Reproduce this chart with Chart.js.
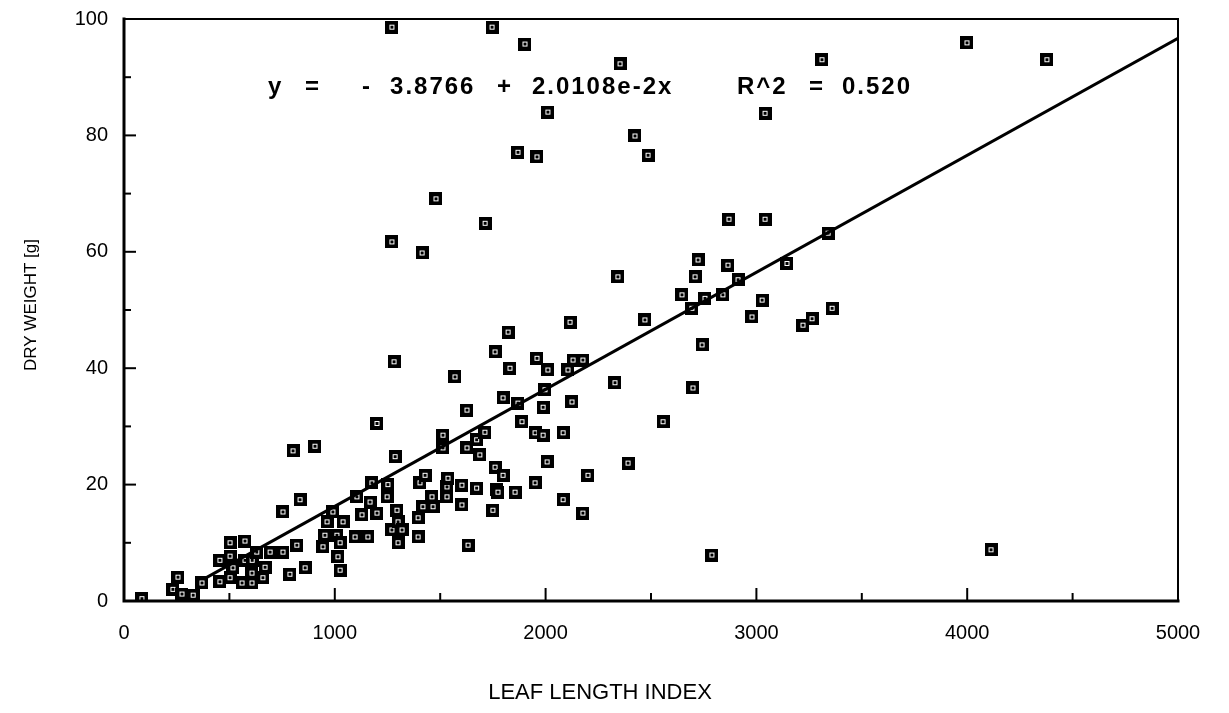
<!DOCTYPE html>
<html>
<head>
<meta charset="utf-8">
<script src="https://cdn.jsdelivr.net/npm/chart.js@4"></script>
<style>
html, body { margin: 0; padding: 0; background: #fff; }
#chart { display: block; }
</style>
</head>
<body>
<canvas id="chart" width="1229" height="713"></canvas>
<script>
// ------------------------
// DATA
// ------------------------

const leafIndex = [
    85, 232, 256, 275, 328, 370, 455, 455, 503, 503, 503, 517, 560, 574, 574, 607, 607, 608, 630, 659,
    669, 693, 754, 754, 787, 802, 820, 835, 859, 906,
    944, 953, 963, 991, 1010, 1015, 1025, 1025, 1039, 1096, 1105, 1129, 1157, 1167, 1176, 1200, 1200, 1248, 1252, 1271,
    1286, 1295, 1300, 1300, 1319, 1281, 1395, 1395, 1404, 1418, 1428, 1461, 1466, 1513, 1513, 1532, 1532, 1537, 1570, 1603,
    1603, 1627, 1627, 1632, 1673, 1673, 1688, 1712, 1750, 1760, 1760, 1769, 1774, 1798, 1798, 1822, 1831, 1855, 1869, 1888,
    1950, 1950, 1959, 1988, 1988, 1997, 2007, 2011, 2083, 2083, 2106, 2116, 2125, 2130, 2177, 2177, 2201, 2329, 2391, 2471,
    2557, 2343, 2647, 2694, 2699, 2709, 2723, 2742, 2756, 2789, 2841, 2865, 2870, 2913, 2979, 3027, 3041, 3041, 3145, 3221,
    3264, 3311, 3340, 3359, 3999, 4113, 4378,
    1271, 1746, 1902, 2353, 2011, 2424, 1869, 1959, 2486, 1480, 1713, 1271, 1414
];

const dryWeight = [
    0.4, 2.0, 4.1, 1.2, 1.0, 3.1, 7.0, 3.3, 10.0, 7.7, 4.0, 5.7, 3.1, 10.3, 7.0, 3.1, 4.8, 7.0, 8.4, 4.0,
    5.8, 8.4, 8.4, 15.3, 4.6, 25.8, 9.6, 17.4, 5.7, 26.6,
    9.3, 11.3, 13.6, 15.3, 11.3, 7.6, 10.0, 5.3, 13.6, 11.0, 17.9, 14.8, 11.0, 17.0, 20.3, 15.1, 30.5, 17.9, 20.0, 12.2,
    24.8, 15.6, 13.6, 10.0, 12.2, 41.1, 14.3, 11.0, 20.3, 16.2, 21.6, 17.9, 16.2, 28.5, 26.3, 19.6, 17.9, 21.1, 38.5, 19.9,
    16.5, 32.8, 26.3, 9.6, 27.7, 19.4, 25.1, 29.0, 15.6, 23.0, 42.8, 19.1, 18.7, 21.6, 34.9, 46.2, 40.0, 18.7, 34.0, 30.8,
    28.9, 20.3, 41.7, 33.3, 28.5, 36.3, 23.9, 39.7, 28.9, 17.4, 39.7, 47.9, 34.2, 41.4, 41.4, 15.1, 21.6, 37.5, 23.7, 48.3,
    30.8, 55.7, 52.6, 50.3, 36.6, 55.7, 58.6, 44.0, 52.0, 7.9, 52.6, 57.7, 65.6, 55.2, 48.8, 51.7, 65.6, 83.8, 58.0, 47.4,
    48.5, 93.0, 63.2, 50.3, 95.9, 8.8, 93.0,
    98.6, 98.6, 95.7, 92.3, 84.0, 79.9, 77.1, 76.3, 76.6, 69.1, 64.9, 61.7, 59.8
];

// regression line end points
const fitX = [380, 5000];
const fitY = [3.8, 96.7];

const xMin = 0, xMax = 5000, xStep = 1000, xMinorStep = 500;
const yMin = 0, yMax = 100, yStep = 20, yMinorStep = 10;

const xTitle = "LEAF LENGTH INDEX";
const yTitle = "DRY WEIGHT [g]";

// equation pieces and the x value where each one starts
const eqParts = [
    ["y", 683], ["=", 859], ["-", 1129], ["3.8766", 1262], ["+", 1769],
    ["2.0108e-2x", 1935], ["R^2", 2908], ["=", 3250], ["0.520", 3406]
];
const eqY = 88.2;

// ------------------------
// MARKER
// ------------------------

function makeMarker() {
    const c = document.createElement("canvas");
    c.width = 13;
    c.height = 13;
    const g = c.getContext("2d");
    g.fillStyle = "#000";
    g.fillRect(0, 0, 13, 13);
    g.fillStyle = "#fff";
    g.fillRect(4, 4, 5, 5);
    g.fillStyle = "#000";
    g.fillRect(5, 5, 3, 3);
    return c;
}

// ------------------------
// FRAME / TICKS / TEXT
// ------------------------

const framePlugin = {
    id: "frame",
    afterDraw(chart) {
        const ctx = chart.ctx;
        const a = chart.chartArea;
        const xs = chart.scales.x;
        const ys = chart.scales.y;

        ctx.save();
        ctx.strokeStyle = "#000";
        ctx.lineCap = "square";

        // top + right border (thin)
        ctx.lineWidth = 2;
        ctx.beginPath();
        ctx.moveTo(a.left, a.top);
        ctx.lineTo(a.right, a.top);
        ctx.lineTo(a.right, a.bottom);
        ctx.stroke();

        // left + bottom axis (thick)
        ctx.lineWidth = 3;
        ctx.beginPath();
        ctx.moveTo(a.left, a.top);
        ctx.lineTo(a.left, a.bottom);
        ctx.lineTo(a.right, a.bottom);
        ctx.stroke();

        // inward ticks
        ctx.lineWidth = 2;
        for (let v = yMin; v <= yMax; v += yMinorStep) {
            const y = ys.getPixelForValue(v);
            const len = v % yStep === 0 ? 11 : 6;
            ctx.beginPath();
            ctx.moveTo(a.left, y);
            ctx.lineTo(a.left + len, y);
            ctx.stroke();
        }
        for (let v = xMin; v <= xMax; v += xMinorStep) {
            const x = xs.getPixelForValue(v);
            const len = v % xStep === 0 ? 12 : 7;
            ctx.beginPath();
            ctx.moveTo(x, a.bottom);
            ctx.lineTo(x, a.bottom - len);
            ctx.stroke();
        }

        // equation
        ctx.fillStyle = "#000";
        ctx.font = "bold 24px 'Liberation Sans', Arial, sans-serif";
        ctx.letterSpacing = "2px";
        ctx.textBaseline = "middle";
        ctx.textAlign = "left";
        const ey = ys.getPixelForValue(eqY);
        eqParts.forEach(([t, xv]) => {
            ctx.fillText(t, xs.getPixelForValue(xv), ey);
        });
        ctx.letterSpacing = "0px";

        // axis titles
        ctx.font = "22px 'Liberation Sans', Arial, sans-serif";
        ctx.textAlign = "center";
        ctx.fillText(xTitle, 600, 693);

        ctx.font = "17px 'Liberation Sans', Arial, sans-serif";
        ctx.translate(31, 305);
        ctx.rotate(-Math.PI / 2);
        ctx.fillText(yTitle, 0, 0);

        ctx.restore();
    }
};

// ------------------------
// CHART
// ------------------------

const points = leafIndex.map((x, i) => ({ x, y: dryWeight[i] }));
const fitLine = fitX.map((x, i) => ({ x, y: fitY[i] }));

new Chart(document.getElementById("chart"), {
    type: "scatter",
    data: {
        datasets: [
            {
                label: "Fit",
                type: "line",
                data: fitLine,
                borderColor: "#000",
                borderWidth: 3,
                pointRadius: 0,
                fill: false
            },
            {
                label: "Plants",
                data: points,
                pointStyle: makeMarker(),
                pointRadius: 6,
                backgroundColor: "#000",
                borderColor: "#000"
            }
        ]
    },
    options: {
        responsive: false,
        animation: false,
        devicePixelRatio: 1,
        layout: { padding: { top: 19, right: 51, left: 0, bottom: 0 } },
        plugins: {
            legend: { display: false },
            tooltip: { enabled: false }
        },
        scales: {
            x: {
                type: "linear",
                min: xMin,
                max: xMax,
                grid: { display: false, drawTicks: false },
                border: { display: false },
                ticks: {
                    stepSize: xStep,
                    padding: 20,
                    color: "#000",
                    maxRotation: 0,
                    callback: v => String(v),
                    font: { family: "'Liberation Sans', Arial, sans-serif", size: 20 }
                },
                afterFit: s => {
                    s.height = 112;
                    s.paddingLeft = 0;
                    s.paddingRight = 0;
                }
            },
            y: {
                type: "linear",
                min: yMin,
                max: yMax,
                grid: { display: false, drawTicks: false },
                border: { display: false },
                ticks: {
                    stepSize: yStep,
                    padding: 16,
                    color: "#000",
                    callback: v => String(v),
                    font: { family: "'Liberation Sans', Arial, sans-serif", size: 20 }
                },
                afterFit: s => {
                    s.width = 124;
                    s.paddingTop = 0;
                    s.paddingBottom = 0;
                }
            }
        }
    },
    plugins: [framePlugin]
});
</script>
</body>
</html>
